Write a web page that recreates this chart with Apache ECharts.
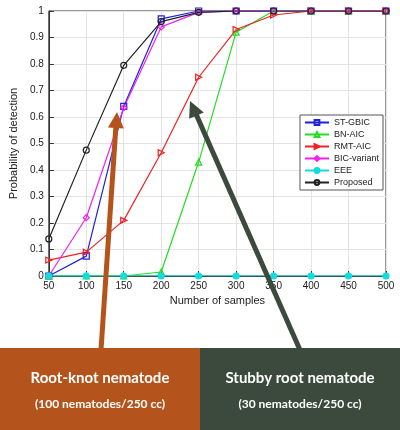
<!DOCTYPE html><html><head><meta charset="utf-8"><script src="https://cdn.jsdelivr.net/npm/echarts@6/dist/echarts.min.js"></script>
<style>html,body{margin:0;padding:0;background:#fff}#c{width:400px;height:430px}</style></head><body><div id="c"></div><script>
const samples=[50,100,150,200,250,300,350,400,450,500];
const stGbic=[0,0.075,0.64,0.97,1,1,1,1,1,1];
const bnAic=[0,0,0,0.015,0.43,0.92,1,1,1,1];
const rmtAic=[0.06,0.09,0.21,0.465,0.75,0.93,0.985,1,1,1];
const bicVariant=[0,0.22,0.635,0.94,0.995,1,1,1,1,1];
const eee=[0,0,0,0,0,0,0,0,0,0];
const proposed=[0.14,0.475,0.795,0.96,0.995,1,1,1,1,1];
const names=['ST-GBIC','BN-AIC','RMT-AIC','BIC-variant','EEE','Proposed'];
const pair=a=>samples.map((x,i)=>[x,a[i]]);
function s(name,data,color,symbol,rot,fill){return{name,type:'line',data:pair(data),symbol,symbolSize:6,symbolRotate:rot||0,showAllSymbol:true,
 lineStyle:{color,width:1.2},itemStyle:{color:fill?color:'rgba(255,255,255,0)',borderColor:color,borderWidth:1.2},color};}
const c=echarts.init(document.getElementById('c'));
const arrowHead=(tx,ty,fx,fy,col)=>{const a=Math.atan2(ty-fy,tx-fx),L=16,W=8;
 const bx=tx-L*Math.cos(a),by=ty-L*Math.sin(a);const px=-Math.sin(a),py=Math.cos(a);
 return{type:'polygon',z:100,shape:{points:[[tx,ty],[bx+W*px,by+W*py],[bx-W*px,by-W*py]]},style:{fill:col}};};
c.setOption({animation:false,
 grid:{left:38,right:14,top:11,bottom:154,show:true,borderColor:'#333',borderWidth:1},
 xAxis:{type:'value',min:50,max:500,interval:50,name:'Number of samples',nameLocation:'middle',nameGap:18,
  nameTextStyle:{fontSize:11,color:'#222',fontFamily:'Liberation Sans'},
  axisLabel:{fontSize:10,color:'#222',margin:5,fontFamily:'Liberation Sans'},axisLine:{lineStyle:{color:'#333'}},axisTick:{inside:true},
  splitLine:{lineStyle:{color:'#e4e4e4'}}},
 yAxis:{type:'value',min:0,max:1,interval:0.1,name:'Probability of detection',nameLocation:'middle',nameGap:24,
  nameTextStyle:{fontSize:11,color:'#222',fontFamily:'Liberation Sans'},
  axisLabel:{fontSize:10,color:'#222',margin:5,fontFamily:'Liberation Sans'},axisLine:{show:true,lineStyle:{color:'#333'}},axisTick:{show:true,inside:true},
  splitLine:{lineStyle:{color:'#e4e4e4'}}},
 legend:{orient:'vertical',right:17,top:115,itemWidth:24,itemHeight:6,itemGap:3,padding:[3,4],
  backgroundColor:'#fff',borderColor:'#555',borderWidth:1,textStyle:{fontSize:9,color:'#222',fontFamily:'Liberation Sans'},data:names},
 series:[s('ST-GBIC',stGbic,'#1f1fe0','rect'),s('BN-AIC',bnAic,'#22dd22','triangle'),
  s('RMT-AIC',rmtAic,'#ee2222','triangle',-90),s('BIC-variant',bicVariant,'#ee22ee','diamond'),
  s('EEE',eee,'#11dddd','circle',0,true),s('Proposed',proposed,'#222222','circle')],
 graphic:[
  {type:'rect',shape:{x:0,y:348,width:200,height:82},style:{fill:'#b4531c'},z:90},
  {type:'rect',shape:{x:200,y:348,width:200,height:82},style:{fill:'#3b4a3c'},z:90},
  {type:'text',x:100,y:378,z:95,style:{text:'Root-knot nematode',fill:'#fff',font:'bold 15px Lato',align:'center',verticalAlign:'middle'}},
  {type:'text',x:100,y:404,z:95,style:{text:'(100 nematodes/250 cc)',fill:'#fff',font:'bold 12px Lato',align:'center',verticalAlign:'middle'}},
  {type:'text',x:300,y:378,z:95,style:{text:'Stubby root nematode',fill:'#fff',font:'bold 15px Lato',align:'center',verticalAlign:'middle'}},
  {type:'text',x:300,y:404,z:95,style:{text:'(30 nematodes/250 cc)',fill:'#fff',font:'bold 12px Lato',align:'center',verticalAlign:'middle'}},
  {type:'line',z:99,shape:{x1:101,y1:350,x2:116,y2:125},style:{stroke:'#b4531c',lineWidth:5}},
  arrowHead(117,112,101,350,'#b4531c'),
  {type:'line',z:99,shape:{x1:300,y1:350,x2:196,y2:114},style:{stroke:'#3b4a3c',lineWidth:5}},
  arrowHead(190,101,300,350,'#3b4a3c')
 ]});
</script></body></html>
